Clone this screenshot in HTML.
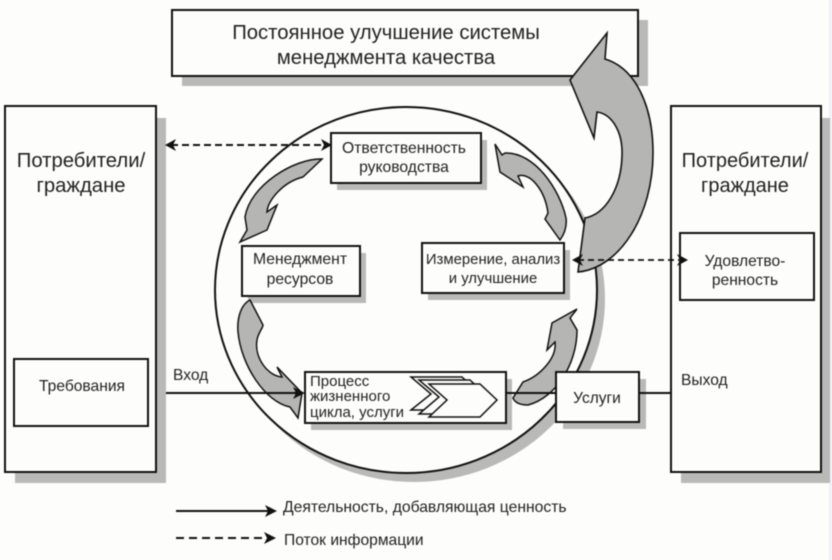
<!DOCTYPE html>
<html lang="ru">
<head>
<meta charset="utf-8">
<style>
html,body{margin:0;padding:0;background:#fdfdfc;}
svg{display:block;filter:blur(0.4px);}
text{font-family:"Liberation Sans",sans-serif;fill:#222;}
</style>
</head>
<body>
<svg width="832" height="560" viewBox="0 0 832 560" xmlns="http://www.w3.org/2000/svg">
<rect width="832" height="560" fill="#fdfdfc"/>
<rect x="829" y="0" width="3" height="560" fill="#eef1f5"/>
<!-- shadows -->
<g fill="#b9b9b7">
<rect x="182" y="20" width="466" height="66"/>
<rect x="15" y="118" width="151" height="365"/>
<rect x="681" y="118" width="149" height="365"/>
<ellipse cx="414" cy="299" rx="191" ry="183"/>
</g>
<!-- circle -->
<ellipse cx="406" cy="290" rx="191" ry="183" fill="#fdfdfc" stroke="#111" stroke-width="2"/>
<!-- top box -->
<rect x="172" y="10" width="466" height="66" fill="#fdfdfc" stroke="#111" stroke-width="2"/>
<text x="386" y="39" font-size="20.3" text-anchor="middle">Постоянное улучшение системы</text>
<text x="386" y="64" font-size="20.3" text-anchor="middle">менеджмента качества</text>
<!-- left box -->
<rect x="5" y="106" width="151" height="366" fill="#fdfdfc" stroke="#111" stroke-width="2"/>
<text x="81" y="167" font-size="20.3" text-anchor="middle">Потребители/</text>
<text x="81" y="192" font-size="20.3" text-anchor="middle">граждане</text>
<rect x="14" y="359" width="134" height="67" fill="#fdfdfc" stroke="#111" stroke-width="2"/>
<text x="82" y="391" font-size="15.6" text-anchor="middle">Требования</text>
<!-- right box -->
<rect x="671" y="106" width="150" height="366" fill="#fdfdfc" stroke="#111" stroke-width="2"/>
<text x="745" y="167" font-size="20" text-anchor="middle">Потребители/</text>
<text x="745" y="192" font-size="20" text-anchor="middle">граждане</text>
<rect x="680" y="233" width="134" height="67" fill="#fdfdfc" stroke="#111" stroke-width="2"/>
<text x="745" y="266" font-size="15.6" text-anchor="middle">Удовлетво-</text>
<text x="745" y="285" font-size="15.6" text-anchor="middle">ренность</text>
<!-- inner box shadows -->
<g fill="#b9b9b7">
<rect x="337" y="140" width="150" height="50"/>
<rect x="248" y="253" width="118" height="50"/>
<rect x="428" y="250" width="142" height="50"/>
<rect x="311" y="379" width="201" height="51"/>
<rect x="563" y="379" width="83" height="50"/>
</g>
<!-- big arrow -->
<path d="M607 33 L570 80 L594 138 L597 112 C612 114 623 132 622 156 C621 188 606 214 585 218 L578 272 C620 268 653 215 653 153 C653 105 635 68 605 59 Z" fill="#b5b5b3" stroke="#111" stroke-width="1.6" stroke-linejoin="miter"/>
<!-- small circular arrows -->
<g fill="#b5b5b3" stroke="#111" stroke-width="1.5" stroke-linejoin="miter">
<path d="M495 144 L500 172 L523 187 L518 176 C530 172 545 190 548 213 L545 219 L560 240 C565 233 567 226 566 218 C560 190 535 152 505 153 L502 155 Z"/>
<path d="M322 159 C295 158 250 185 245 217 L247 230 L240 242 L267 230 L277 205 L267 212 C268 200 283 182 303 177 Z"/>
<path d="M250 300 C240 305 237 320 238 332 C241 365 265 402 290 407 L298 418 L302 393 L277 367 L282 377 C268 376 254 358 257 340 C258 333 263 328 263 325 Z"/>
<path d="M577 309 L552 323 L547 350 L555 342 C557 358 540 376 523 382 L513 398 C515 403 520 405 528 405 C555 398 577 365 577 330 L570 318 Z"/>
</g>
<!-- connectors -->
<g stroke="#111" stroke-width="2" fill="none">
<line x1="166" y1="393" x2="302" y2="393"/>
<line x1="506" y1="393" x2="556" y2="393"/>
<line x1="639" y1="393" x2="671" y2="393"/>
<line x1="176" y1="511" x2="270" y2="511"/>
<line x1="171" y1="145" x2="326" y2="145" stroke-dasharray="7 4"/>
<line x1="578" y1="260" x2="684" y2="260" stroke-dasharray="6 4" stroke-width="1.8"/>
<line x1="176" y1="538" x2="268" y2="538" stroke-dasharray="8 5"/>
</g>
<!-- inner boxes -->
<g fill="#fdfdfc" stroke="#111" stroke-width="2">
<rect x="331" y="133" width="150" height="50"/>
<rect x="242" y="246" width="118" height="50"/>
<rect x="422" y="243" width="142" height="50"/>
<rect x="305" y="372" width="201" height="51"/>
<rect x="556" y="372" width="83" height="50"/>
</g>
<text x="404" y="153" font-size="15.7" text-anchor="middle">Ответственность</text>
<text x="404" y="172" font-size="15.7" text-anchor="middle">руководства</text>
<text x="300" y="264" font-size="15.7" text-anchor="middle">Менеджмент</text>
<text x="300" y="284" font-size="15.7" text-anchor="middle">ресурсов</text>
<text x="493" y="264" font-size="14.9" text-anchor="middle">Измерение, анализ</text>
<text x="493" y="283" font-size="14.9" text-anchor="middle">и улучшение</text>
<text x="310" y="386" font-size="15">Процесс</text>
<text x="310" y="401" font-size="15">жизненного</text>
<text x="310" y="417" font-size="15">цикла, услуги</text>
<text x="597" y="403" font-size="15.5" text-anchor="middle">Услуги</text>
<text x="173" y="380" font-size="15.6">Вход</text>
<text x="681" y="385" font-size="15.6">Выход</text>
<text x="283" y="512" font-size="15.7">Деятельность, добавляющая ценность</text>
<text x="284" y="545" font-size="15.6">Поток информации</text>
<!-- chevrons -->
<g fill="#fdfdfc" stroke="#111" stroke-width="1.5" stroke-linejoin="miter">
<path d="M411 377 L462 377 L480 394 L462 410 L411 410 L431 394 Z"/>
<path d="M419 380 L470 380 L488 397 L470 414 L419 414 L439 397 Z"/>
<path d="M429 384 L480 384 L497 400 L480 417 L429 417 L447 400 Z"/>
</g>
<!-- arrowheads -->
<g fill="#111">
<path d="M305 393 L293 387 L296 393 L293 399 Z"/>
<path d="M165 145 L176 139 L173 145 L176 151 Z"/>
<path d="M332 145 L321 139 L324 145 L321 151 Z"/>
<path d="M572 260 L583 254 L580 260 L583 266 Z"/>
<path d="M688 260 L677 254 L680 260 L677 266 Z"/>
<path d="M277 511 L265 505 L268 511 L265 517 Z"/>
<path d="M276 538 L264 532 L267 538 L264 544 Z"/>
</g>
</svg>
</body>
</html>
